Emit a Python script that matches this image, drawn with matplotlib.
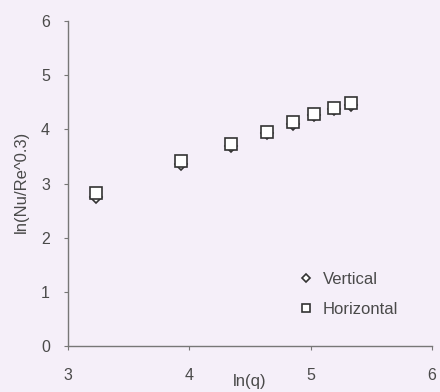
import matplotlib
matplotlib.use("Agg")
import matplotlib.pyplot as plt

plt.rcParams["font.family"] = ["Liberation Sans", "DejaVu Sans"]

ln_q = [3.23, 3.93, 4.34, 4.64, 4.85, 5.03, 5.19, 5.33]
vertical = [2.76, 3.36, 3.70, 3.93, 4.10, 4.26, 4.37, 4.46]
horizontal = [2.82, 3.42, 3.74, 3.96, 4.13, 4.29, 4.40, 4.48]
x_ticks = [3, 4, 5, 6]
y_ticks = [0, 1, 2, 3, 4, 5, 6]

bg = "#f5eff9"
tc = "#4a4a4a"
fig = plt.figure(figsize=(4.4, 3.92), dpi=100, facecolor=bg)
ax = fig.add_axes([0.1545, 0.117, 0.8275, 0.829], facecolor=bg)

ax.plot(ln_q, vertical, linestyle="none", marker="D", markersize=6.5,
        markerfacecolor="white", markeredgecolor="#333333", markeredgewidth=1.2,
        label="Vertical")
ax.plot(ln_q, horizontal, linestyle="none", marker="s", markersize=8.5,
        markerfacecolor="white", markeredgecolor="#333333", markeredgewidth=1.2,
        label="Horizontal")

ax.set_xlim(3, 6)
ax.set_ylim(0, 6)
ax.set_xticks(x_ticks)
ax.set_yticks(y_ticks)
for s in ["top", "right"]:
    ax.spines[s].set_visible(False)
for s in ["left", "bottom"]:
    ax.spines[s].set_color("#777777")
    ax.spines[s].set_linewidth(1.0)
ax.tick_params(axis="both", colors="#777777", labelcolor=tc, labelsize=11.5, length=3)
ax.tick_params(axis="x", pad=13)
ax.tick_params(axis="y", pad=10)

ax.set_xlabel("ln(q)", color=tc, fontsize=12)
ax.xaxis.set_label_coords(0.498, -0.085)
ax.set_ylabel("ln(Nu/Re^0.3)", color=tc, fontsize=12)
ax.yaxis.set_label_coords(-0.108, 0.505)

leg = ax.legend(loc="upper left", bbox_to_anchor=(0.602, 0.274), frameon=False,
                fontsize=12, handlelength=0.5, handletextpad=0.75,
                labelspacing=0.87, markerscale=0.68, labelcolor=tc)

fig.savefig("out.png", dpi=100, facecolor=bg)
